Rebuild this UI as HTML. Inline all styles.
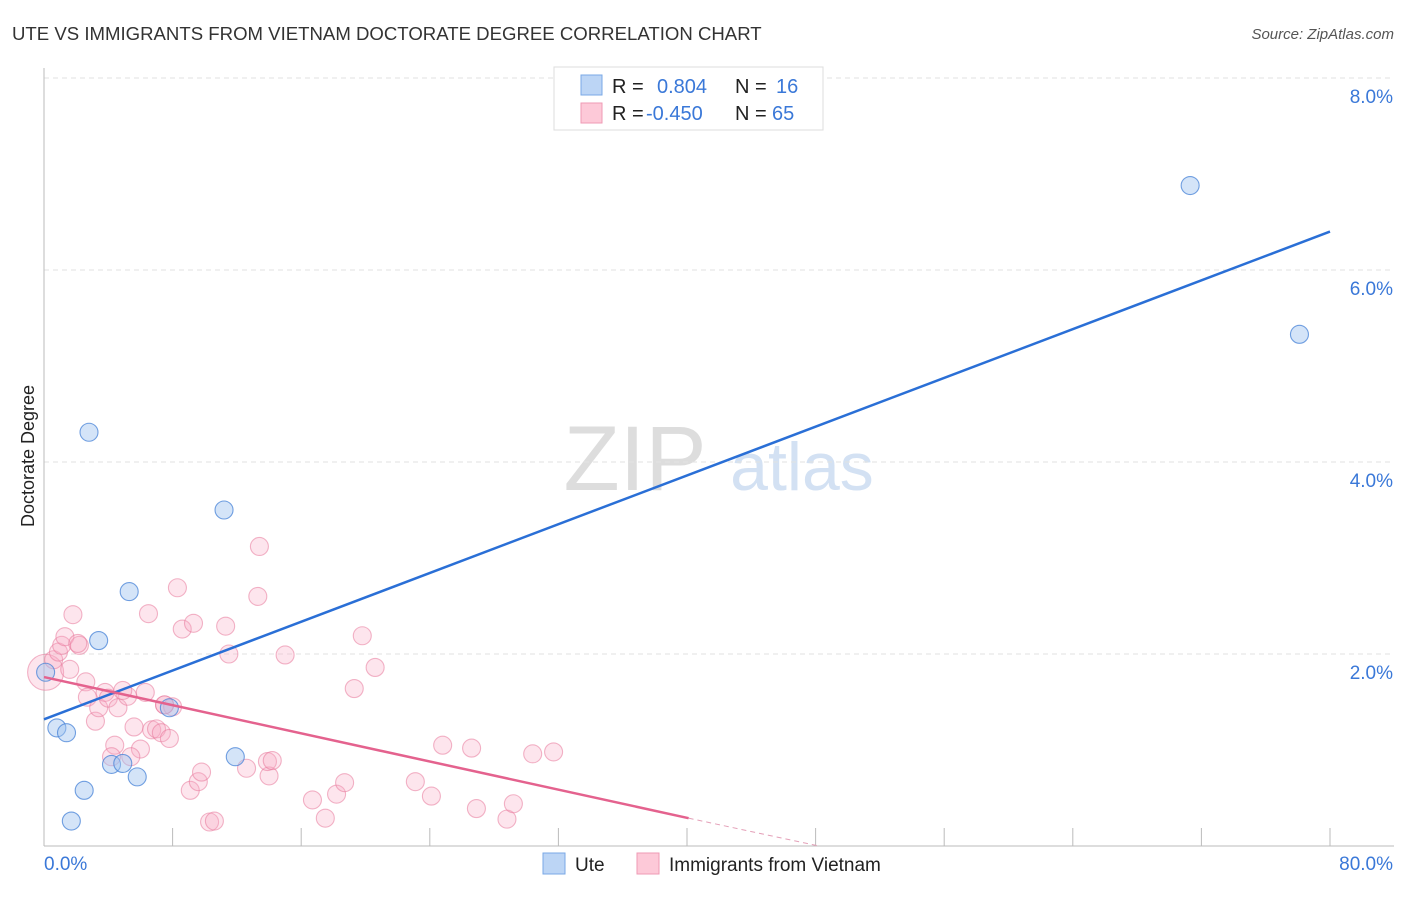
<!DOCTYPE html>
<html><head><meta charset="utf-8"><style>
body{margin:0;background:#fff;font-family:"Liberation Sans",sans-serif}
svg text{font-family:"Liberation Sans",sans-serif}
</style></head><body>
<svg id="c" width="1406" height="892">
<text x="12" y="40" font-size="18.6" fill="#333">UTE VS IMMIGRANTS FROM VIETNAM DOCTORATE DEGREE CORRELATION CHART</text>
<text x="1394" y="39" font-size="15" fill="#555" text-anchor="end" font-style="italic">Source: ZipAtlas.com</text>
<text x="34" y="456" font-size="18" fill="#222" text-anchor="middle" transform="rotate(-90 34 456)">Doctorate Degree</text>
<g><text x="635" y="490" font-size="92" fill="#ddd" text-anchor="middle" font-family="Liberation Serif">ZIP</text><text x="802" y="490" font-size="68" fill="#d3e1f3" text-anchor="middle">atlas</text></g>
<g id="grid"></g><g id="pts"></g><g id="lines"></g>
<g>
<rect x="554" y="67" width="269" height="63" fill="#fff" stroke="#ddd"/>
<rect x="581" y="75" width="21" height="20" fill="#bcd5f5" stroke="#7aa8e6"/>
<rect x="581" y="103" width="21" height="20" fill="#fdc9d8" stroke="#ef9ab4"/>
<text x="612" y="93" font-size="20" fill="#222">R =</text><text x="657" y="93" font-size="20" fill="#3a78d8">0.804</text>
<text x="735" y="93" font-size="20" fill="#222">N =</text><text x="776" y="93" font-size="20" fill="#3a78d8">16</text>
<text x="612" y="120" font-size="20" fill="#222">R =</text><text x="646" y="120" font-size="20" fill="#3a78d8">-0.450</text>
<text x="735" y="120" font-size="20" fill="#222">N =</text><text x="772" y="120" font-size="20" fill="#3a78d8">65</text>
</g>
<g>
<rect x="543" y="853" width="22" height="21" fill="#bcd5f5" stroke="#7aa8e6"/>
<text x="575" y="871" font-size="19" fill="#222">Ute</text>
<rect x="637" y="853" width="22" height="21" fill="#fdc9d8" stroke="#ef9ab4"/>
<text x="669" y="871" font-size="19" fill="#222">Immigrants from Vietnam</text>
</g>
</svg>
<script>
const yTicks=[2,4,6,8];
const yTickLabels=["2.0%","4.0%","6.0%","8.0%"];
const xTickLabels=["0.0%","80.0%"];
const uteX=[2.8,11.2,5.3,3.4,0.1,0.8,1.4,4.2,4.9,5.8,2.5,1.7,7.8,11.9,71.3,78.1];
const uteY=[4.31,3.5,2.65,2.14,1.81,1.23,1.18,0.85,0.86,0.72,0.58,0.26,1.44,0.93,6.88,5.33];
const vnX=[0.1,0.6,0.9,1.1,1.3,1.8,1.6,2.2,2.1,2.6,2.7,3.2,3.4,3.8,4.0,4.6,5.2,4.9,5.6,4.4,4.2,6.0,5.4,6.5,6.3,6.7,7.0,7.3,7.8,7.5,8.0,8.3,8.6,9.3,11.3,11.5,13.4,13.3,15.0,19.8,20.6,19.3,9.1,9.6,9.8,10.3,10.6,12.6,14.0,13.9,14.2,16.7,17.5,18.2,18.7,23.1,24.1,24.8,26.6,26.9,28.8,29.2,30.4,31.7,7.5];
const vnY=[1.81,1.94,2.02,2.09,2.18,2.41,1.84,2.09,2.11,1.71,1.55,1.30,1.44,1.60,1.54,1.44,1.56,1.62,1.24,1.05,0.93,1.01,0.93,2.42,1.60,1.21,1.22,1.18,1.12,1.47,1.45,2.69,2.26,2.32,2.29,2.0,3.12,2.6,1.99,2.19,1.86,1.64,0.58,0.67,0.77,0.25,0.26,0.81,0.73,0.88,0.89,0.48,0.29,0.54,0.66,0.67,0.52,1.05,1.02,0.39,0.28,0.44,0.96,0.98,1.47];
const uteLine=[0,1.32,80,6.40];
const vnLine=[0,1.76,40.1,0.29];
const vnDash=[40.1,0.29,48.2,0];
const ns="http://www.w3.org/2000/svg";
const X=v=>44+v*16.075, Y=v=>846-v*96;
function mk(t,a,p){const e=document.createElementNS(ns,t);for(const k in a)e.setAttribute(k,a[k]);p.appendChild(e);return e;}
const g=document.getElementById('grid');
yTicks.forEach((t,i)=>{
 const l=mk('line',{x1:44,x2:1394,y1:Y(t),y2:Y(t),stroke:'#e2e2e2','stroke-dasharray':'5,4'},g);
 
 
 const tx=mk('text',{x:1393,y:Y(t)+25,'font-size':19,fill:'#3a78d8','text-anchor':'end'},g);tx.textContent=yTickLabels[i];
 
 
});
mk('line',{x1:44,x2:44,y1:68,y2:846,stroke:'#bbb'},g);
mk('line',{x1:44,x2:1394,y1:846,y2:846,stroke:'#bbb'},g);
for(let i=1;i<=10;i++){const t=mk('line',{x1:X(i*8),x2:X(i*8),y1:828,y2:846,stroke:'#bbb'},g);
 
 }
const a=mk('text',{x:44,y:870,'font-size':19,fill:'#3a78d8'},g);a.textContent=xTickLabels[0];


const b=mk('text',{x:1393,y:870,'font-size':19,fill:'#3a78d8','text-anchor':'end'},g);b.textContent=xTickLabels[1];


const p=document.getElementById('pts');
vnX.forEach((x,i)=>{const c=mk('circle',{cx:X(x),cy:Y(vnY[i]),r:i==0?18:9,fill:'rgba(248,170,195,0.3)',stroke:'rgba(232,120,155,0.55)','stroke-width':1.1},p);
 
 });
uteX.forEach((x,i)=>{const c=mk('circle',{cx:X(x),cy:Y(uteY[i]),r:9,fill:'rgba(160,195,240,0.45)',stroke:'rgba(70,130,215,0.75)','stroke-width':1.1},p);
 
 });
const L=document.getElementById('lines');
let l1=mk('line',{x1:X(uteLine[0]),y1:Y(uteLine[1]),x2:X(uteLine[2]),y2:Y(uteLine[3]),stroke:'#2a6fd6','stroke-width':2.5},L);


let l2=mk('line',{x1:X(vnLine[0]),y1:Y(vnLine[1]),x2:X(vnLine[2]),y2:Y(vnLine[3]),stroke:'#e4628e','stroke-width':2.5},L);


let l3=mk('line',{x1:X(vnDash[0]),y1:Y(vnDash[1]),x2:X(vnDash[2]),y2:Y(vnDash[3]),stroke:'#e4a0b8','stroke-width':1,'stroke-dasharray':'5,4'},L);


</script>
</body></html>
